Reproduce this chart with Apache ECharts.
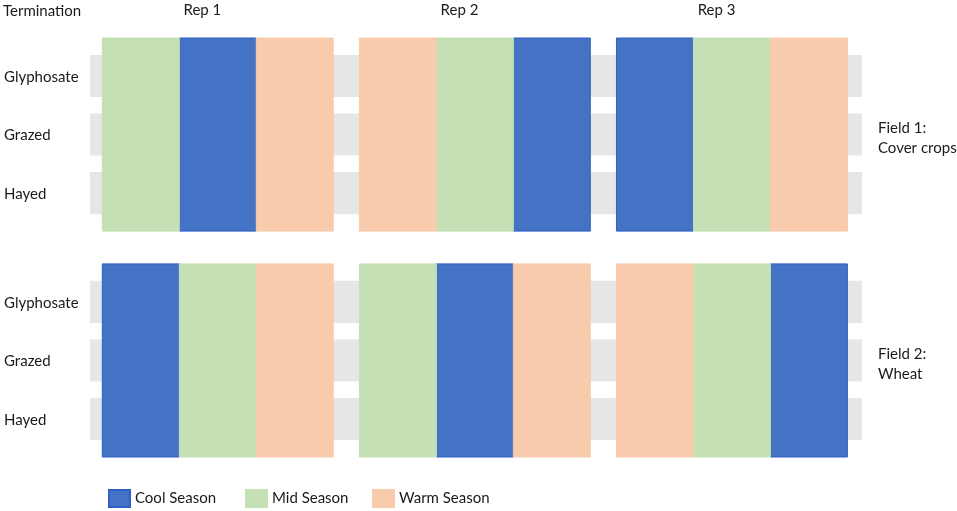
<!DOCTYPE html>
<html lang="en">
<head>
  <meta charset="UTF-8">
  <title>Plot layout</title>
  <style>
    * { box-sizing: border-box; padding: 0; margin: 0; }
    html, body, #main { width: 100%; height: 100%; background: #fff; }
  </style>
  <script src="https://cdn.jsdelivr.net/npm/echarts@6/dist/echarts.min.js"></script>
</head>
<body>
  <div id="main"></div>
  <script>
    // data
    var seasons = ['Cool Season', 'Mid Season', 'Warm Season'];
    var seasonColors = ['#4472C4', '#C5E0B4', '#F8CBAD'];
    var seasonBorders = ['#2F5FC4', '#C5E0B4', '#F8CBAD'];
    var terminations = ['Glyphosate', 'Grazed', 'Hayed'];
    var reps = ['Rep 1', 'Rep 2', 'Rep 3'];
    var fields = ['Field 1:\nCover crops', 'Field 2:\nWheat'];
    // season planted in each plot, per rep (left to right)
    var field1Layout = [
      ['Mid Season', 'Cool Season', 'Warm Season'],
      ['Warm Season', 'Mid Season', 'Cool Season'],
      ['Cool Season', 'Mid Season', 'Warm Season']
    ];
    var field2Layout = [
      ['Cool Season', 'Mid Season', 'Warm Season'],
      ['Mid Season', 'Cool Season', 'Warm Season'],
      ['Warm Season', 'Mid Season', 'Cool Season']
    ];
    var layouts = [field1Layout, field2Layout];

    // layout (units: one plot wide, one termination row high)
    var repGap = 0.34;
    var fieldGap = 3.86;
    var overhang = 0.65;
    var bandHalf = 0.36;
    var xMin = -0.16, xMax = 9.87;

    var font = 'Lato';
    var fontSize = 15;
    var textColor = '#1a1a1a';

    var myChart = echarts.init(document.getElementById('main'));

    // one data list per season: [field, rep, plot]
    function plotsFor(season) {
      var out = [];
      layouts.forEach(function (layout, f) {
        layout.forEach(function (rep, r) {
          rep.forEach(function (s, p) {
            if (s === season) out.push([f, r, p]);
          });
        });
      });
      return out;
    }

    function renderPlot(params, api) {
      var f = api.value(0), r = api.value(1), p = api.value(2);
      var x0 = r * (3 + repGap) + p;
      var a = api.coord([x0, f * fieldGap - overhang]);
      var b = api.coord([x0 + 1, f * fieldGap + 2 + overhang]);
      return {
        type: 'rect',
        shape: { x: a[0], y: a[1], width: b[0] - a[0], height: b[1] - a[1] },
        style: api.style({ lineWidth: 1 })
      };
    }

    var bandData = [];
    fields.forEach(function (fl, f) {
      terminations.forEach(function (t, row) { bandData.push([f, row]); });
    });

    var series = [{
      type: 'custom',
      name: 'bands',
      silent: true,
      data: bandData,
      renderItem: function (params, api) {
        var f = api.value(0), row = api.value(1);
        var y = f * fieldGap + row;
        var a = api.coord([xMin, y - bandHalf]);
        var b = api.coord([xMax, y + bandHalf]);
        var mid = api.coord([xMin, y]);
        return {
          type: 'group',
          children: [{
            type: 'rect',
            shape: { x: a[0], y: a[1], width: b[0] - a[0], height: b[1] - a[1] },
            style: { fill: '#E7E6E6' }
          }, {
            type: 'text',
            style: {
              x: 4, y: mid[1] + 1, text: terminations[row],
              fill: textColor, font: fontSize + 'px ' + font,
              textAlign: 'left', textVerticalAlign: 'middle'
            }
          }]
        };
      }
    }];

    seasons.forEach(function (s, i) {
      series.push({
        type: 'custom',
        name: s,
        data: plotsFor(s),
        itemStyle: { color: seasonColors[i], borderColor: seasonBorders[i], borderWidth: 1 },
        renderItem: renderPlot
      });
    });

    // rep and field labels
    series.push({
      type: 'custom',
      name: 'reps',
      silent: true,
      data: reps.map(function (r, i) { return [i]; }),
      renderItem: function (params, api) {
        var r = api.value(0);
        var c = api.coord([r * (3 + repGap) + 1.3, 0]);
        return {
          type: 'text',
          style: {
            x: c[0], y: 10, text: reps[r], fill: textColor,
            font: fontSize + 'px ' + font, textAlign: 'center', textVerticalAlign: 'middle'
          }
        };
      }
    });
    series.push({
      type: 'custom',
      name: 'fields',
      silent: true,
      data: fields.map(function (fl, i) { return [i]; }),
      renderItem: function (params, api) {
        var f = api.value(0);
        var c = api.coord([xMax, f * fieldGap + 1.07]);
        return {
          type: 'text',
          style: {
            x: c[0] + 16, y: c[1], text: fields[f], fill: textColor,
            font: fontSize + 'px ' + font, lineHeight: 20,
            textAlign: 'left', textVerticalAlign: 'middle'
          }
        };
      }
    });

    var legendLeft = [108, 245, 372];
    var option = {
      animation: false,
      grid: { left: 90, right: 95, top: 38, bottom: 54 },
      xAxis: { type: 'value', min: xMin, max: xMax, show: false },
      yAxis: { type: 'value', inverse: true, min: -overhang, max: fieldGap + 2 + overhang, show: false },
      graphic: [{
        type: 'text', left: 3, top: 4,
        style: { text: 'Termination', fill: textColor, font: fontSize + 'px ' + font }
      }],
      legend: seasons.map(function (s, i) {
        return {
          data: [s], left: legendLeft[i], top: 489, icon: 'rect',
          itemWidth: 21, itemHeight: 17, itemGap: 0, padding: 0,
          textStyle: { fontFamily: font, fontSize: fontSize, color: textColor }
        };
      }),
      series: series
    };
    myChart.setOption(option);
    window.onresize = myChart.resize;
  </script>
</body>
</html>
